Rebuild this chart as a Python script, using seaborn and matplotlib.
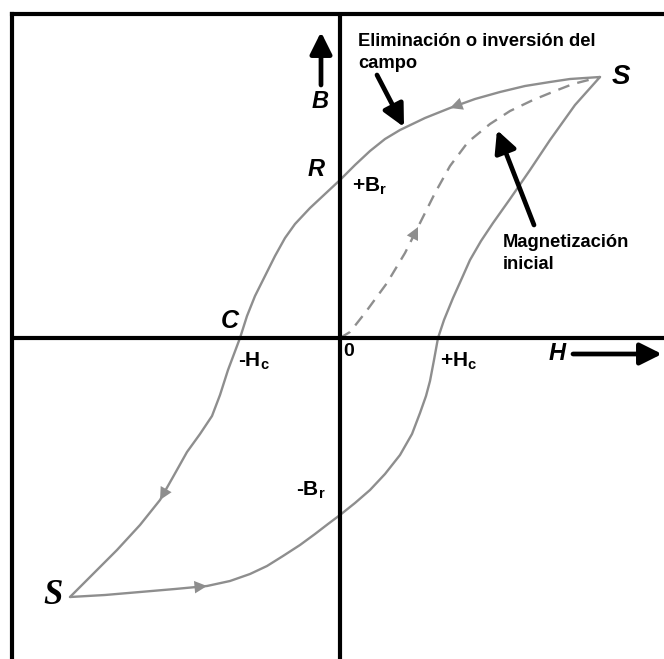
import matplotlib
matplotlib.use("Agg")
import matplotlib.pyplot as plt
import seaborn as sns

# Hysteresis loop (H, B in arbitrary units, origin at 0)
upper_h = [260, 245, 230, 210, 185, 160, 135, 110, 85, 60, 45, 30, 15, 0, -15, -30,
           -45, -55, -65, -75, -85, -93, -100, -106, -112, -120, -128, -140, -153,
           -167, -180, -200, -223, -248, -270]
upper_b = [261, 260, 259, 256, 252, 246, 239, 230, 220, 208, 199, 187, 173, 158, 144,
           130, 114, 100, 82, 62, 42, 22, 0, -16, -32, -57, -78, -96, -114, -139, -162,
           -187, -212, -237, -259]

lower_h = [-270, -235, -200, -165, -133, -110, -90, -73, -57, -40, -25, -12, 0, 15,
           30, 45, 60, 72, 80, 86, 90, 94, 98, 104, 113, 122, 130, 141, 153, 170, 190,
           210, 235, 260]
lower_b = [-259, -257, -254, -251, -248, -243, -236, -228, -218, -207, -196, -186,
           -177, -165, -152, -136, -117, -96, -75, -58, -43, -22, 0, 18, 40, 60, 78,
           97, 115, 139, 168, 198, 233, 261]

init_h = [0, 10, 25, 47, 65, 78, 95, 110, 128, 150, 170, 193, 215, 233, 260]
init_b = [0, 6, 25, 55, 85, 111, 145, 172, 196, 214, 227, 238, 247, 254, 261]

GRAY = "#8e8e8e"

sns.set_style("white")
plt.rcParams["font.family"] = ["Liberation Sans", "DejaVu Sans"]
plt.rcParams["text.color"] = "black"

fig = plt.figure(figsize=(6.64, 6.59), dpi=100)
ax = fig.add_axes([12 / 664, 0, 652 / 664, 645 / 659])
ax.set_xlim(-328, 324)
ax.set_ylim(-321, 324)

sns.lineplot(x=upper_h, y=upper_b, sort=False, estimator=None, color=GRAY, lw=1.7, ax=ax)
sns.lineplot(x=lower_h, y=lower_b, sort=False, estimator=None, color=GRAY, lw=1.7, ax=ax)
sns.lineplot(x=init_h, y=init_b, sort=False, estimator=None, color=GRAY, lw=1.7,
             linestyle=(0, (5, 3.5)), ax=ax)


def flow_arrow(hs, bs, i):
    # small arrowhead on a curve, pointing from point i to point i+1
    ax.annotate("", xy=(hs[i + 1], bs[i + 1]), xytext=(hs[i], bs[i]),
                arrowprops=dict(arrowstyle="-|>,head_length=0.5,head_width=0.25",
                                color=GRAY, lw=0, mutation_scale=18,
                                shrinkA=0, shrinkB=0))


flow_arrow(upper_h, upper_b, 6)
flow_arrow(upper_h, upper_b, 29)
flow_arrow(lower_h, lower_b, 3)
flow_arrow(init_h, init_b, 4)

# frame and axes
for s in ["right", "bottom"]:
    ax.spines[s].set_visible(False)
for s in ["left", "top"]:
    ax.spines[s].set_linewidth(3)
    ax.spines[s].set_color("black")
ax.axhline(0, color="black", lw=3)
ax.axvline(0, color="black", lw=3)
ax.set_xticks([])
ax.set_yticks([])

bi = dict(fontweight="bold", fontstyle="italic")
ax.text(281, 261, "S", fontsize=20, ha="center", va="center", **bi)
ax.text(-287, -257, "S", fontsize=25, ha="center", va="center",
        family=["Liberation Serif", "DejaVu Serif"], **bi)
ax.text(-24, 168, "R", fontsize=17, ha="center", va="center", **bi)
ax.text(-110, 17, "C", fontsize=18, ha="center", va="center", **bi)
ax.text(-20, 236, "B", fontsize=17, ha="center", va="center", **bi)
ax.text(217, -16, "H", fontsize=17, ha="center", va="center", **bi)

sub = dict(fontsize=15, fontweight="bold", ha="left", va="center")
ax.text(12, 152, "+B$_\\mathregular{r}$", **sub)
ax.text(-102, -23, "-H$_\\mathregular{c}$", **sub)
ax.text(100, -23, "+H$_\\mathregular{c}$", **sub)
ax.text(-44, -152, "-B$_\\mathregular{r}$", **sub)
ax.text(9, -14, "0", fontsize=14, fontweight="bold", ha="center", va="center")

ax.text(18, 305, "Eliminación o inversión del\ncampo", fontsize=13.2, fontweight="bold",
        ha="left", va="top", linespacing=1.4)
ax.text(163, 104, "Magnetización\ninicial", fontsize=13.2, fontweight="bold",
        ha="left", va="top", linespacing=1.4)

big = dict(arrowstyle="-|>,head_length=0.6,head_width=0.3", color="black", lw=3.4,
           mutation_scale=22, shrinkA=0, shrinkB=0)
ax.annotate("", xy=(64, 211), xytext=(37, 263), arrowprops=big)
ax.annotate("", xy=(157, 208), xytext=(194, 113), arrowprops=big)
ax.annotate("", xy=(-19, 306), xytext=(-19, 253), arrowprops=big)
ax.annotate("", xy=(322, -16), xytext=(233, -16), arrowprops=big)

fig.savefig("out.png", dpi=100)
